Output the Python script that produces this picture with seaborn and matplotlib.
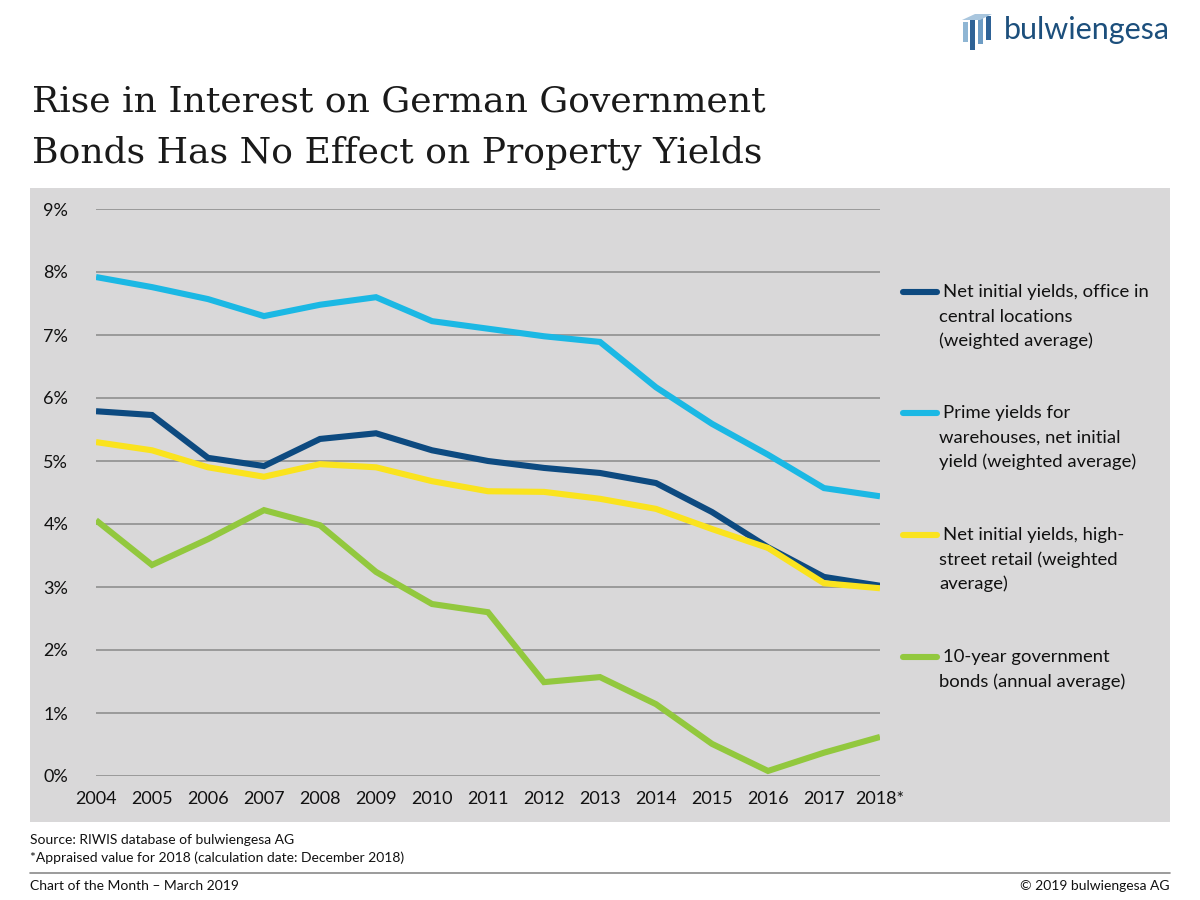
import matplotlib
matplotlib.use("Agg")
import matplotlib.pyplot as plt
from matplotlib.lines import Line2D
from matplotlib.patches import Rectangle, Polygon
import pandas as pd
import seaborn as sns

# data (percent)
years = list(range(2004, 2019))
year_labels = [str(y) for y in years[:-1]] + ["2018*"]
office = [5.79, 5.73, 5.05, 4.92, 5.35, 5.44, 5.17, 5.00, 4.89, 4.81, 4.65, 4.19, 3.63, 3.16, 3.02]
warehouse = [7.92, 7.76, 7.57, 7.30, 7.48, 7.60, 7.22, 7.10, 6.98, 6.89, 6.17, 5.59, 5.10, 4.57, 4.44]
retail = [5.30, 5.17, 4.90, 4.75, 4.95, 4.90, 4.68, 4.52, 4.51, 4.40, 4.24, 3.92, 3.62, 3.06, 2.98]
bonds = [4.06, 3.35, 3.76, 4.22, 3.98, 3.24, 2.73, 2.60, 1.49, 1.57, 1.14, 0.51, 0.08, 0.37, 0.62]

series_names = [
    "Net initial yields, office in\ncentral locations\n(weighted average)",
    "Prime yields for\nwarehouses, net initial\nyield (weighted average)",
    "Net initial yields, high-\nstreet retail (weighted\naverage)",
    "10-year government\nbonds (annual average)",
]
colors = ["#0d4a80", "#1bb8e4", "#fae31e", "#92c83e"]

df = pd.concat([
    pd.DataFrame({"year": years, "value": vals, "series": name})
    for name, vals in zip(series_names, [office, warehouse, retail, bonds])
])

sns.set_theme(style="white")
plt.rcParams["font.family"] = ["Lato", "DejaVu Sans"]

fig = plt.figure(figsize=(12, 9), dpi=100)
W, H = 1200, 900

def fx(px):
    return px / W

def fy(py):
    return 1 - py / H

# grey panel behind the chart
fig.add_artist(Rectangle((fx(30), fy(822)), fx(1170) - fx(30), fy(188) - fy(822),
                         transform=fig.transFigure, facecolor="#d9d8d9",
                         edgecolor="none", zorder=0))

ax = fig.add_axes([fx(96), fy(776), fx(880) - fx(96), fy(209) - fy(776)])
ax.set_facecolor("none")

sns.lineplot(data=df, x="year", y="value", hue="series", palette=colors,
             linewidth=4.4, ax=ax, legend=False, sort=False)
for line in ax.lines:
    line.set_solid_joinstyle("miter")
    line.set_solid_capstyle("butt")

ax.set_xlim(2004, 2018)
ax.set_ylim(0, 9)
ax.set_yticks(range(0, 10))
ax.set_yticklabels([f"{v}%" for v in range(0, 10)])
ax.set_xticks(years)
ax.set_xticklabels(year_labels)
ax.grid(axis="y", color="#8f8f8f", linewidth=1.2)
ax.set_axisbelow(True)
for s in ax.spines.values():
    s.set_visible(False)
ax.tick_params(axis="y", length=0, pad=20, labelsize=13, labelcolor="#111111")
ax.tick_params(axis="x", length=0, pad=11, labelsize=13, labelcolor="#111111")
ax.set_xlabel("")
ax.set_ylabel("")

# legend, drawn by hand so the key sits on the first text line
legend_y = [292, 413, 535, 657]
for name, col, y in zip(series_names, colors, legend_y):
    fig.add_artist(Line2D([fx(903), fx(937)], [fy(y), fy(y)], transform=fig.transFigure,
                          color=col, linewidth=4.4, solid_capstyle="round"))
    lines = name.split("\n")
    for i, t in enumerate(lines):
        x0 = 943 if i == 0 else 939
        fig.text(fx(x0), fy(y + i * 24.5), t, fontsize=13.3, color="#111111",
                 ha="left", va="center")

# title
fig.text(fx(32), fy(101), "Rise in Interest on German Government", fontsize=26,
         family="DejaVu Serif", color="#1a1a1a", ha="left", va="center")
fig.text(fx(32), fy(153), "Bonds Has No Effect on Property Yields", fontsize=26,
         family="DejaVu Serif", color="#1a1a1a", ha="left", va="center")

# logo
logo_dark = "#1c4f7c"
fig.text(fx(1170), fy(30), "bulwiengesa", fontsize=22, color=logo_dark,
         ha="right", va="center")
for (x0, top, bot, c) in [(963, 22, 42, "#8fb6d4"), (970, 18, 50, "#2e6296"),
                          (978, 16, 44, "#6d9cc4"), (986, 16, 40, "#2e6296")]:
    fig.add_artist(Rectangle((fx(x0), fy(bot)), fx(5), fy(top) - fy(bot),
                             transform=fig.transFigure, facecolor=c, edgecolor="none"))
fig.add_artist(Polygon([[fx(962), fy(20)], [fx(975), fy(14)], [fx(992), fy(14)],
                        [fx(980), fy(20)]], closed=True, transform=fig.transFigure,
                       facecolor="#a9c6de", edgecolor="none"))

# footer
fig.text(fx(30), fy(840), "Source: RIWIS database of bulwiengesa AG", fontsize=10,
         color="#111111", ha="left", va="center")
fig.text(fx(30), fy(858), "*Appraised value for 2018 (calculation date: December 2018)",
         fontsize=10, color="#111111", ha="left", va="center")
fig.add_artist(Line2D([fx(30), fx(1170)], [fy(873), fy(873)], transform=fig.transFigure,
                      color="#8a8a8a", linewidth=1.2))
fig.text(fx(30), fy(886), "Chart of the Month \u2013 March 2019", fontsize=10,
         color="#111111", ha="left", va="center")
fig.text(fx(1170), fy(886), "\u00a9 2019 bulwiengesa AG", fontsize=10,
         color="#111111", ha="right", va="center")

fig.savefig("out.png", dpi=100, facecolor="white")
